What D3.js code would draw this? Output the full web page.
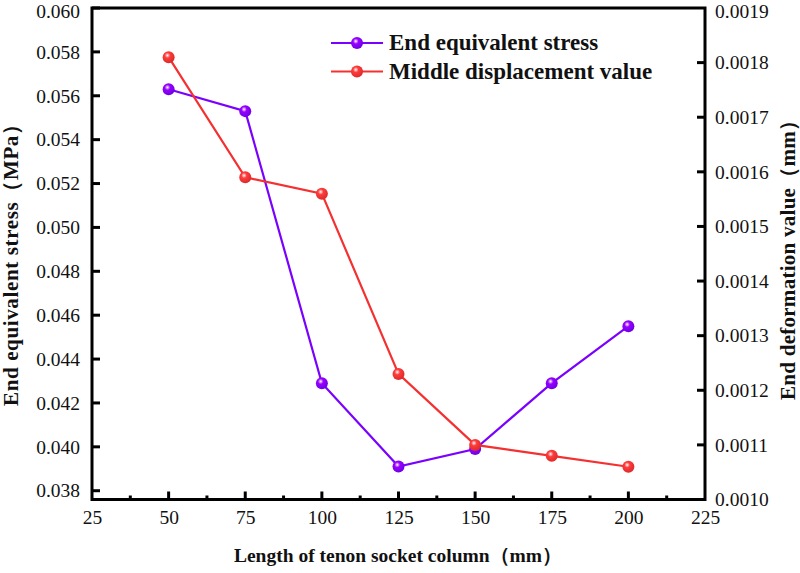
<!DOCTYPE html>
<html>
<head>
<meta charset="utf-8">
<script src="https://cdn.jsdelivr.net/npm/d3@7"></script>
<style>
  body { margin: 0; background: #fff; }
  svg { display: block; }
  text { font-family: "Liberation Serif", "Times New Roman", serif; fill: #111; }
</style>
</head>
<body>
<svg id="chart" width="800" height="573"></svg>
<script>
// data
var lengths = [50, 75, 100, 125, 150, 175, 200];
var stress = [0.0563, 0.0553, 0.0429, 0.0391, 0.0399, 0.0429, 0.0455];
var displacement = [0.00181, 0.00159, 0.00156, 0.00123, 0.00110, 0.00108, 0.00106];
var xTicks = [25, 50, 75, 100, 125, 150, 175, 200, 225];
var leftTicks = [0.038, 0.040, 0.042, 0.044, 0.046, 0.048, 0.050, 0.052, 0.054, 0.056, 0.058, 0.060];
var rightTicks = [0.0010, 0.0011, 0.0012, 0.0013, 0.0014, 0.0015, 0.0016, 0.0017, 0.0018, 0.0019];
var seriesNames = ["End equivalent stress", "Middle displacement value"];
var seriesColors = ["#7a00ff", "#f53030"];

var svg = d3.select("#chart");
var plotL = 92, plotR = 705, plotT = 8, plotB = 499.5;
var serif = "'Liberation Serif', 'Times New Roman', serif";

var x = d3.scaleLinear().domain([25, 225]).range([plotL, plotR]);
var yL = d3.scaleLinear().domain([0.0376, 0.060]).range([plotB, plotT]);
var yR = d3.scaleLinear().domain([0.0010, 0.0019]).range([plotB, plotT]);

// sphere-like marker gradients
var defs = svg.append("defs");
seriesColors.forEach(function (c, i) {
  var g = defs.append("radialGradient")
    .attr("id", "ball" + i)
    .attr("cx", "40%").attr("cy", "35%").attr("r", "65%");
  g.append("stop").attr("offset", "0%").attr("stop-color", "#fff");
  g.append("stop").attr("offset", "35%").attr("stop-color", d3.color(c).brighter(0.6));
  g.append("stop").attr("offset", "100%").attr("stop-color", d3.color(c).darker(0.3));
});

// axes
var fontSize = 19.5;
var xAxis = svg.append("g").attr("transform", "translate(0," + plotB + ")")
  .call(d3.axisBottom(x).tickValues(xTicks).tickSize(0).tickPadding(11));
var leftAxis = svg.append("g").attr("transform", "translate(" + plotL + ",0)")
  .call(d3.axisLeft(yL).tickValues(leftTicks).tickSize(0).tickPadding(12).tickFormat(d3.format(".3f")));
var rightAxis = svg.append("g").attr("transform", "translate(" + plotR + ",0)")
  .call(d3.axisRight(yR).tickValues(rightTicks).tickSize(0).tickPadding(10).tickFormat(d3.format(".4f")));
[xAxis, leftAxis, rightAxis].forEach(function (a) {
  a.attr("font-family", serif).attr("font-size", fontSize);
  a.select(".domain").remove();
  a.selectAll("text").attr("fill", "#111");
});
// keep the topmost labels inside the page
leftAxis.selectAll(".tick").filter(function (d) { return d === 0.060; }).select("text").attr("dy", "0.5em");
rightAxis.selectAll(".tick").filter(function (d) { return d === 0.0019; }).select("text").attr("dy", "0.5em");

// inward ticks
var tickG = svg.append("g").attr("stroke", "#000");
tickG.selectAll(".xmaj").data(xTicks.slice(1, -1)).enter().append("line")
  .attr("x1", function (d) { return x(d); }).attr("x2", function (d) { return x(d); })
  .attr("y1", plotB).attr("y2", plotB - 8).attr("stroke-width", 3);
var minor = d3.range(0, xTicks.length - 1).map(function (i) { return (xTicks[i] + xTicks[i + 1]) / 2; });
tickG.selectAll(".xmin").data(minor).enter().append("line")
  .attr("x1", function (d) { return x(d); }).attr("x2", function (d) { return x(d); })
  .attr("y1", plotB).attr("y2", plotB - 4).attr("stroke-width", 3);
tickG.selectAll(".lt").data(leftTicks).enter().append("line")
  .attr("x1", plotL).attr("x2", plotL + 8)
  .attr("y1", function (d) { return yL(d); }).attr("y2", function (d) { return yL(d); })
  .attr("stroke-width", 3);
tickG.selectAll(".rt").data(rightTicks.slice(1, -1)).enter().append("line")
  .attr("x1", plotR).attr("x2", plotR - 8)
  .attr("y1", function (d) { return yR(d); }).attr("y2", function (d) { return yR(d); })
  .attr("stroke-width", 3);

// frame
svg.append("rect")
  .attr("x", plotL).attr("y", plotT)
  .attr("width", plotR - plotL).attr("height", plotB - plotT)
  .attr("fill", "none").attr("stroke", "#000").attr("stroke-width", 3);

// series
function drawSeries(values, yScale, i) {
  var pts = lengths.map(function (l, k) { return [x(l), yScale(values[k])]; });
  svg.append("path")
    .attr("d", d3.line()(pts))
    .attr("fill", "none").attr("stroke", seriesColors[i]).attr("stroke-width", 2.2);
  svg.append("g").selectAll("circle").data(pts).enter().append("circle")
    .attr("cx", function (d) { return d[0]; }).attr("cy", function (d) { return d[1]; })
    .attr("r", 6).attr("fill", "url(#ball" + i + ")");
}
drawSeries(stress, yL, 0);
drawSeries(displacement, yR, 1);

// legend
var legend = svg.append("g");
seriesNames.forEach(function (name, i) {
  var ly = 43 + i * 28.5;
  legend.append("line").attr("x1", 331).attr("x2", 383).attr("y1", ly).attr("y2", ly)
    .attr("stroke", seriesColors[i]).attr("stroke-width", 2.2);
  legend.append("circle").attr("cx", 357).attr("cy", ly).attr("r", 6)
    .attr("fill", "url(#ball" + i + ")");
  legend.append("text").attr("x", 389).attr("y", ly + 7)
    .attr("font-size", 23).attr("font-weight", "bold").text(name);
});

// axis titles
svg.append("text")
  .attr("x", 398).attr("y", 562)
  .attr("text-anchor", "middle").attr("font-size", 19.5).attr("font-weight", "bold")
  .text("Length of tenon socket column（mm）");
svg.append("text")
  .attr("transform", "translate(18,260) rotate(-90)")
  .attr("text-anchor", "middle").attr("font-size", 21).attr("font-weight", "bold")
  .attr("textLength", 292).attr("lengthAdjust", "spacing")
  .text("End equivalent stress（MPa）");
svg.append("text")
  .attr("transform", "translate(795,255) rotate(-90)")
  .attr("text-anchor", "middle").attr("font-size", 21).attr("font-weight", "bold")
  .attr("textLength", 290).attr("lengthAdjust", "spacing")
  .text("End deformation value（mm）");
</script>
</body>
</html>
